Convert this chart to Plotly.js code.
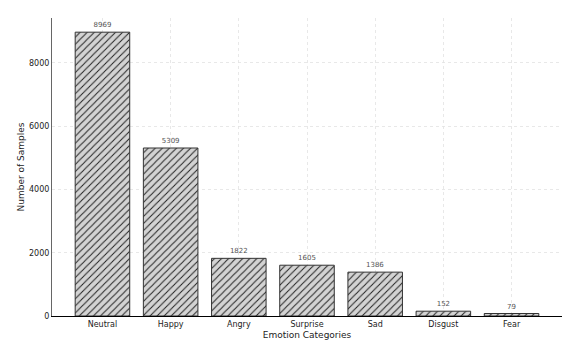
<!DOCTYPE html>
<html>
<head>
<meta charset="utf-8">
<script src="https://cdn.plot.ly/plotly-3.0.1.min.js"></script>
<style>
  html,body{margin:0;padding:0;background:#fff}
  #chart{width:581px;height:357px}
</style>
</head>
<body>
<div id="chart"></div>
<script>
// emotion class counts
const categories=['Neutral','Happy','Angry','Surprise','Sad','Disgust','Fear']
const counts=[8969,5309,1822,1605,1386,152,79]
const yTicks=[0,2000,4000,6000,8000]

let trace={
    type:'bar',
    x:categories,
    y:counts,
    width:0.8,
    text:counts.map(String),
    textposition:'outside',
    cliponaxis:false,
    textfont:{family:'DejaVu Sans',size:7,color:'#555'},
    marker:{
        color:'#d3d3d3',
        line:{color:'#333',width:1},
        pattern:{shape:'/',bgcolor:'#d3d3d3',fgcolor:'#222',size:5,solidity:0.2}
    },
    hoverinfo:'skip'
}

let layout={
    width:581,
    height:357,
    margin:{l:52,r:19,t:18,b:41,pad:0},
    paper_bgcolor:'#fff',
    plot_bgcolor:'#fff',
    showlegend:false,
    bargap:0.2,
    font:{family:'DejaVu Sans',size:8,color:'#222'},
    xaxis:{
        type:'category',
        range:[-0.74,6.74],
        showgrid:true,
        gridcolor:'#e2e2e2',
        griddash:'dot',
        gridwidth:0.8,
        showline:true,
        linecolor:'#000',
        linewidth:1.2,
        ticks:'',
        tickfont:{size:8,color:'#222'},
        title:{text:'Emotion Categories',font:{size:9,color:'#222'},standoff:4},
        zeroline:false
    },
    yaxis:{
        range:[0,9417],
        tickvals:yTicks,
        ticktext:yTicks.map(String),
        showgrid:true,
        gridcolor:'#e2e2e2',
        griddash:'dot',
        gridwidth:0.8,
        showline:true,
        linecolor:'#666',
        linewidth:1,
        ticks:'',
        tickfont:{size:8,color:'#222'},
        title:{text:'Number of Samples',font:{size:9,color:'#222'},standoff:2},
        zeroline:false
    }
}

Plotly.newPlot('chart',[trace],layout,{displayModeBar:false,staticPlot:true})
</script>
</body>
</html>
